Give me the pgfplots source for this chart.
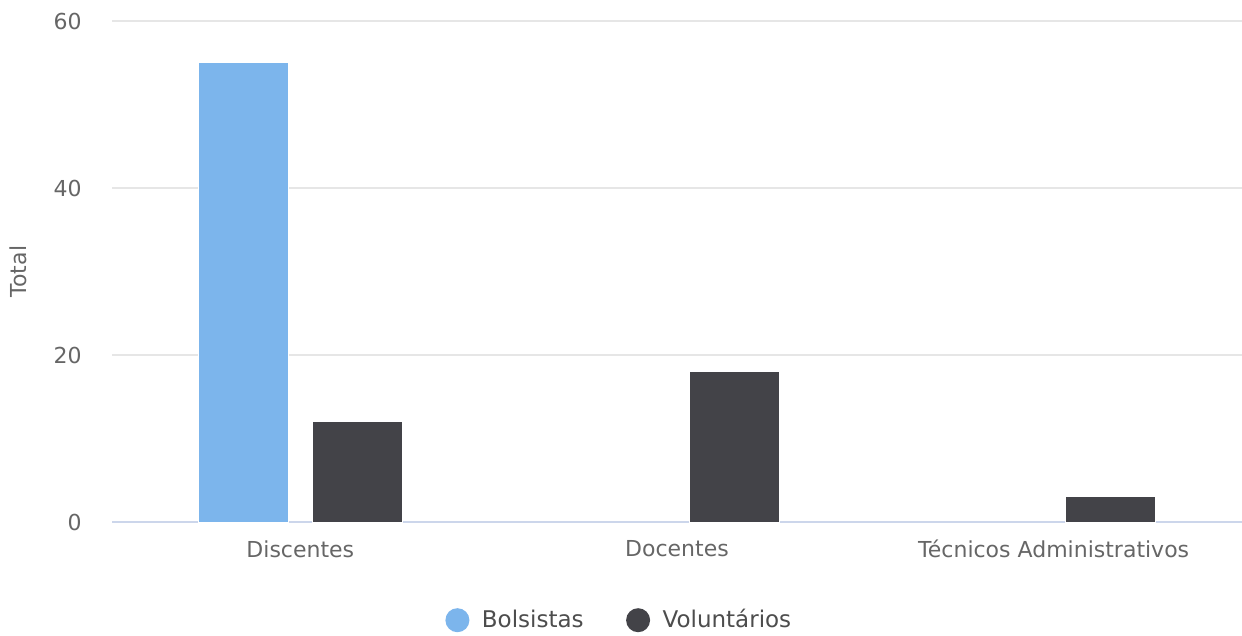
\documentclass[border=0pt]{standalone}
\usepackage{fontspec}
\setmainfont{DejaVu Sans}
\usepackage{pgfplots}
\pgfplotsset{compat=1.18}
\definecolor{bolsa}{HTML}{7CB5EC}
\definecolor{volunt}{HTML}{434348}
\definecolor{tickgray}{HTML}{666666}
\definecolor{legtext}{HTML}{4D4D4D}
\definecolor{gridgray}{HTML}{E6E6E6}
\definecolor{axisblue}{HTML}{CCD6EB}

\begin{document}
\begin{tikzpicture}
  \begin{axis}[
    name=ax, at={(0,0)}, anchor=south west,
    scale only axis, width=565pt, height=250.5pt,
    ybar=12pt, bar width=45pt,
    xmin=-0.5, xmax=2.5, ymin=0, ymax=60,
    xtick={0,1,2},
    xticklabels={Discentes,Docentes,Técnicos Administrativos},
    ytick={0,20,40,60},
    /pgf/number format/assume math mode=true,
    axis x line*=bottom, axis y line*=left,
    x axis line style={axisblue, line width=0.7pt, -},
    y axis line style={draw=none},
    major tick length=0pt,
    ymajorgrids, grid style={gridgray, line width=0.6pt},
    font=\fontsize{11pt}{13pt}\selectfont,
    tick label style={text=tickgray, font=\fontsize{11pt}{13pt}\selectfont},
    yticklabel style={inner sep=0pt, xshift=-15pt},
    xticklabel style={inner sep=0pt, yshift=-9pt},
    ylabel={Total},
    ylabel style={at={(axis description cs:-0.083,0.5)}, anchor=center, text=tickgray},
    legend columns=2,
    legend style={at={(axis description cs:0.4496,-0.196)}, anchor=center, draw=none,
      text=legtext, font=\fontsize{11.5pt}{13pt}\selectfont,
      /tikz/every even column/.append style={column sep=19pt}},
    legend image code/.code={\fill[#1, draw=none] (0pt,0pt) circle (6pt);
      \path (-6pt,0pt) (10pt,0pt);},
  ]
    \addplot[fill=bolsa, draw=white, line width=0.5pt] coordinates {(0,55)};
    \addlegendentry{Bolsistas}
    \addplot[fill=volunt, draw=white, line width=0.5pt] coordinates {(0,12) (1,18) (2,3)};
    \addlegendentry{Voluntários}
  \end{axis}
  \pgfresetboundingbox
  \path ([shift={(-56pt,-57pt)}]ax.south west) rectangle ([shift={(0pt,10.5pt)}]ax.north east);
\end{tikzpicture}
\end{document}
